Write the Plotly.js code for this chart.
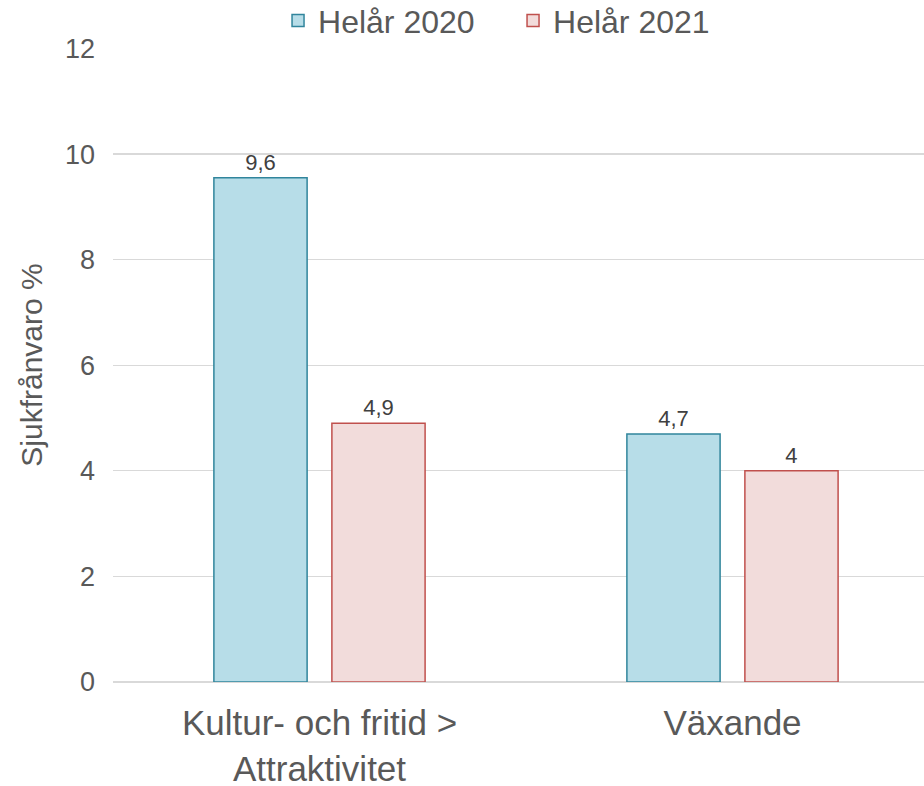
<!DOCTYPE html>
<html>
<head>
<meta charset="utf-8">
<script src="https://cdn.plot.ly/plotly-3.0.1.min.js"></script>
<style>html,body{margin:0;padding:0;background:#fff;}#chart{width:924px;height:786px;}</style>
</head>
<body>
<div id="chart"></div>
<script>
const categories = ["Kultur- och fritid ><br>Attraktivitet", "Växande"];
const seriesNames = ["Helår 2020", "Helår 2021"];
const values2020 = [9.55, 4.7];
const values2021 = [4.9, 4.0];
const yTicks = [0, 2, 4, 6, 8, 10, 12];
const yTitle = "Sjukfrånvaro %";

const FONT = "Liberation Sans, Arial, sans-serif";
const TXT = "#595959";

function fmt(v){ return String(Number(v.toFixed(1))).replace('.', ','); }

const traces = [
  {
    type: 'bar', name: seriesNames[0], x: categories, y: values2020,
    marker: {color: '#b7dde8', line: {color: '#31859c', width: 1.5}},
    text: values2020.map(fmt), textposition: 'outside',
    textfont: {family: FONT, size: 22, color: '#404040'},
    cliponaxis: false, hoverinfo: 'none'
  },
  {
    type: 'bar', name: seriesNames[1], x: categories, y: values2021,
    marker: {color: '#f2dcdb', line: {color: '#c0504d', width: 1.5}},
    text: values2021.map(fmt), textposition: 'outside',
    textfont: {family: FONT, size: 22, color: '#404040'},
    cliponaxis: false, hoverinfo: 'none'
  }
];

const layout = {
  width: 924, height: 786,
  margin: {l: 113, r: 0, t: 48, b: 104, pad: 0, autoexpand: false},
  paper_bgcolor: '#ffffff', plot_bgcolor: '#ffffff',
  font: {family: FONT, color: TXT},
  barmode: 'group',
  bargap: 0.4286,
  bargroupgap: 0.21,
  showlegend: true,
  legend: {
    orientation: 'h', x: 0.2035, xanchor: 'left', xref: 'paper',
    yref: 'paper', y: 1.043, yanchor: 'middle',
    font: {family: FONT, size: 32, color: TXT},
    entrywidth: 190, entrywidthmode: 'pixels',
    bgcolor: 'rgba(0,0,0,0)'
  },
  xaxis: {
    type: 'category',
    range: [-0.5, 1.4637],
    showgrid: false, zeroline: false, showline: false,
    ticks: '', tickfont: {family: FONT, size: 35, color: TXT},
    ticklabelstandoff: 17,
    automargin: false
  },
  yaxis: {
    range: [0, 12.01], tickvals: yTicks, ticktext: yTicks.map(String),
    showgrid: true, gridcolor: '#d9d9d9', gridwidth: 1.3,
    zeroline: true, zerolinecolor: '#d9d9d9', zerolinewidth: 2,
    showline: false, ticks: '',
    tickfont: {family: FONT, size: 27, color: TXT},
    ticklabelstandoff: 17,
    title: {text: yTitle, font: {family: FONT, size: 30, color: TXT}, standoff: 13},
    automargin: false
  }
};

Plotly.newPlot('chart', traces, layout, {displayModeBar: false, staticPlot: true});
</script>
</body>
</html>
